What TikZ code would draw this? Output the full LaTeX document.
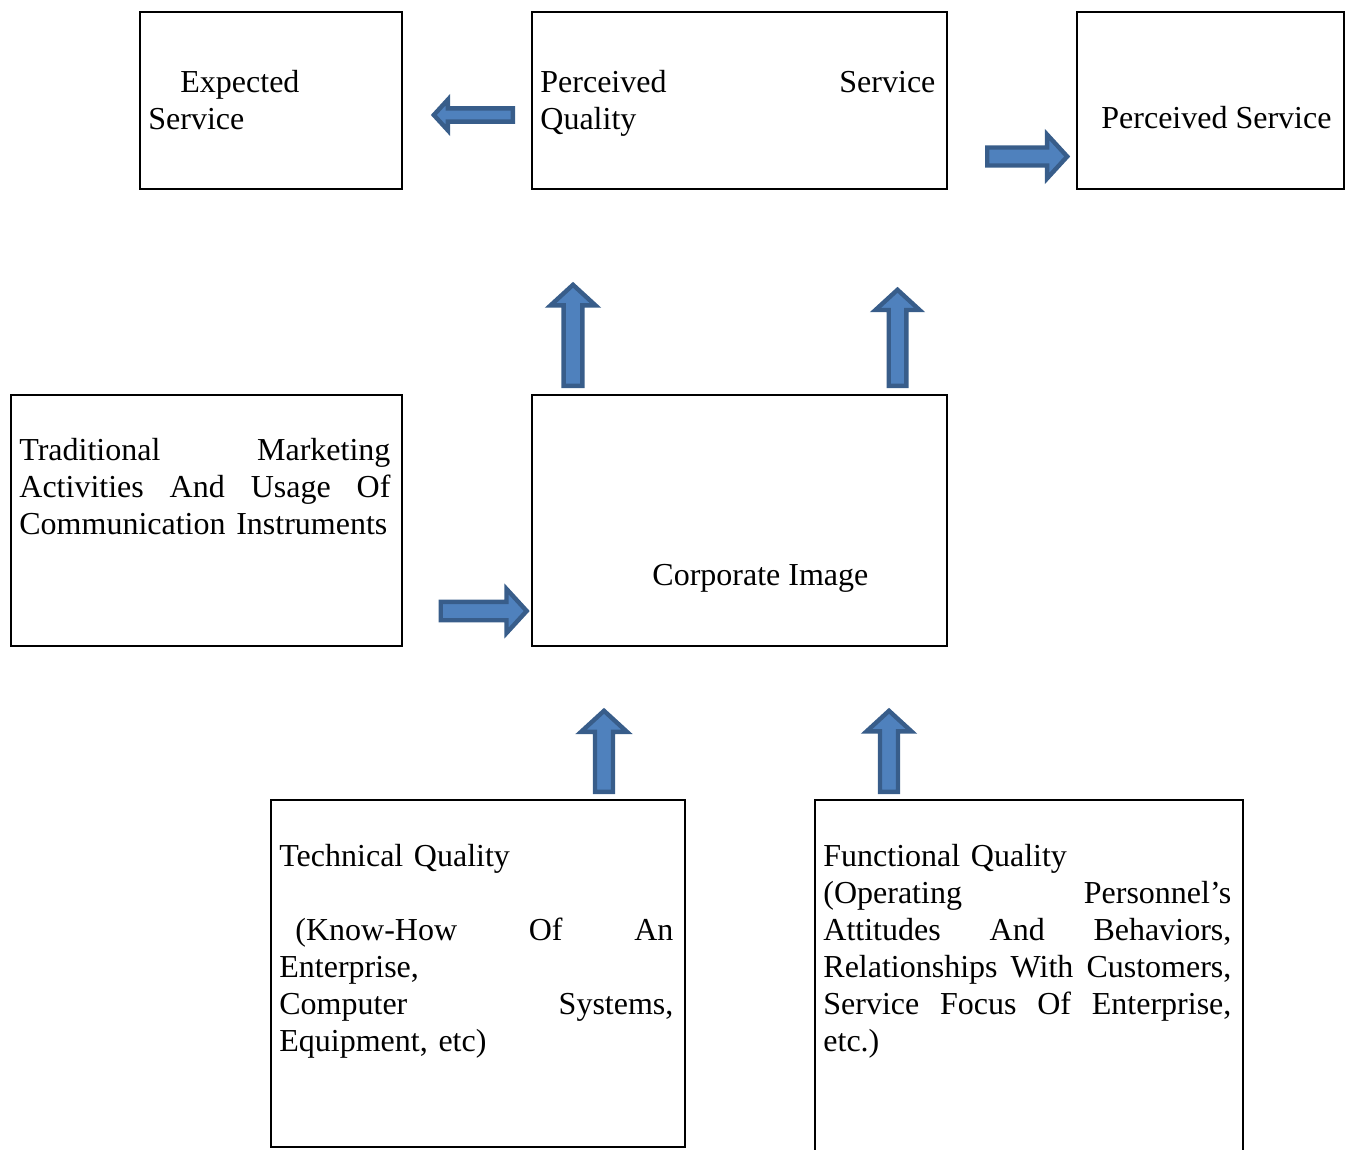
\documentclass[tikz,border=0pt]{standalone}
\usepackage{fontspec}
\setmainfont{Liberation Serif}
\usetikzlibrary{shapes.arrows}

\definecolor{arrowfill}{HTML}{4F81BD}
\definecolor{arrowline}{HTML}{385D8A}

\begin{document}
\begin{tikzpicture}[x=0.5pt,y=-0.5pt,
box/.style={draw=black,line width=1pt,inner sep=0pt,anchor=north west},
txt/.style={inner sep=0pt,anchor=base west,align=left,
  font=\fontsize{16}{18.5}\selectfont},
blockarrow/.style={single arrow,draw=arrowline,fill=arrowfill,line width=2.2pt,
  anchor=tail,single arrow tip angle=95}]
\useasboundingbox (0,0) rectangle (1349,1150);
\clip (0,0) rectangle (1349,1150);

% boxes
\node [box,minimum width=131pt,minimum height=88.5pt] (exp) at (139,11) {};
\node [box,minimum width=207.5pt,minimum height=88.5pt] (pq) at (531,11) {};
\node [box,minimum width=133.5pt,minimum height=88.5pt] (ps) at (1076,11) {};
\node [box,minimum width=195.5pt,minimum height=125.5pt] (trad) at (10,394) {};
\node [box,minimum width=207.5pt,minimum height=125.5pt] (corp) at (531,394) {};
\node [box,minimum width=207pt,minimum height=173.5pt] (tech) at (270,799) {};
\node [box,minimum width=214pt,minimum height=220pt] (func) at (814,799) {};

% texts
\node [txt,text width=121pt] (exptxt) at (148,93) {\hspace*{16pt}Expected\\Service};
\node [txt,text width=197.5pt] (pqtxt) at (540,93) {Perceived\hfill Service\\Quality};
\node [txt] (pstxt) at (1101,129) {Perceived Service};
\node [txt,text width=185.5pt] (tradtxt) at (19,460)
  {Traditional\hfill Marketing\\Activities\hfill And\hfill Usage\hfill Of\\Communication Instruments};
\node [txt] (corptxt) at (652,585) {Corporate Image};
\node [txt,text width=197pt] (techtxt) at (279,866)
  {Technical Quality\\[18.5pt]\hspace*{8pt}(Know-How\hfill Of\hfill An\\Enterprise,\\Computer\hfill Systems,\\Equipment, etc)};
\node [txt,text width=204pt] (functxt) at (823,866)
  {Functional Quality\\(Operating\hfill Personnel’s\\Attitudes\hfill And\hfill Behaviors,\\Relationships\hfill With\hfill Customers,\\Service\hfill Focus\hfill Of\hfill Enterprise,\\etc.)};

% block arrows
\node [blockarrow,rotate=180,minimum height=39.5pt,minimum width=15pt,inner sep=2.2pt,
  single arrow head extend=4.4pt] (a1) at (515,115) {};
\node [blockarrow,minimum height=40pt,minimum width=21pt,inner sep=3.4pt,
  single arrow head extend=6.5pt] (a2) at (985,156.5) {};
\node [blockarrow,rotate=90,minimum height=50.5pt,minimum width=21.5pt,inner sep=3.6pt,
  single arrow head extend=6.5pt] (a3) at (573,388) {};
\node [blockarrow,rotate=90,minimum height=48pt,minimum width=21pt,inner sep=3.3pt,
  single arrow head extend=6.6pt] (a4) at (897.5,388) {};
\node [blockarrow,minimum height=43pt,minimum width=21pt,inner sep=3.5pt,
  single arrow head extend=6.4pt] (a5) at (438.5,611) {};
\node [blockarrow,rotate=90,minimum height=40.5pt,minimum width=22pt,inner sep=3.4pt,
  single arrow head extend=7pt] (a6) at (604,794) {};
\node [blockarrow,rotate=90,minimum height=40.5pt,minimum width=21.5pt,inner sep=3.4pt,
  single arrow head extend=6.75pt] (a7) at (889,794) {};
\end{tikzpicture}
\end{document}
